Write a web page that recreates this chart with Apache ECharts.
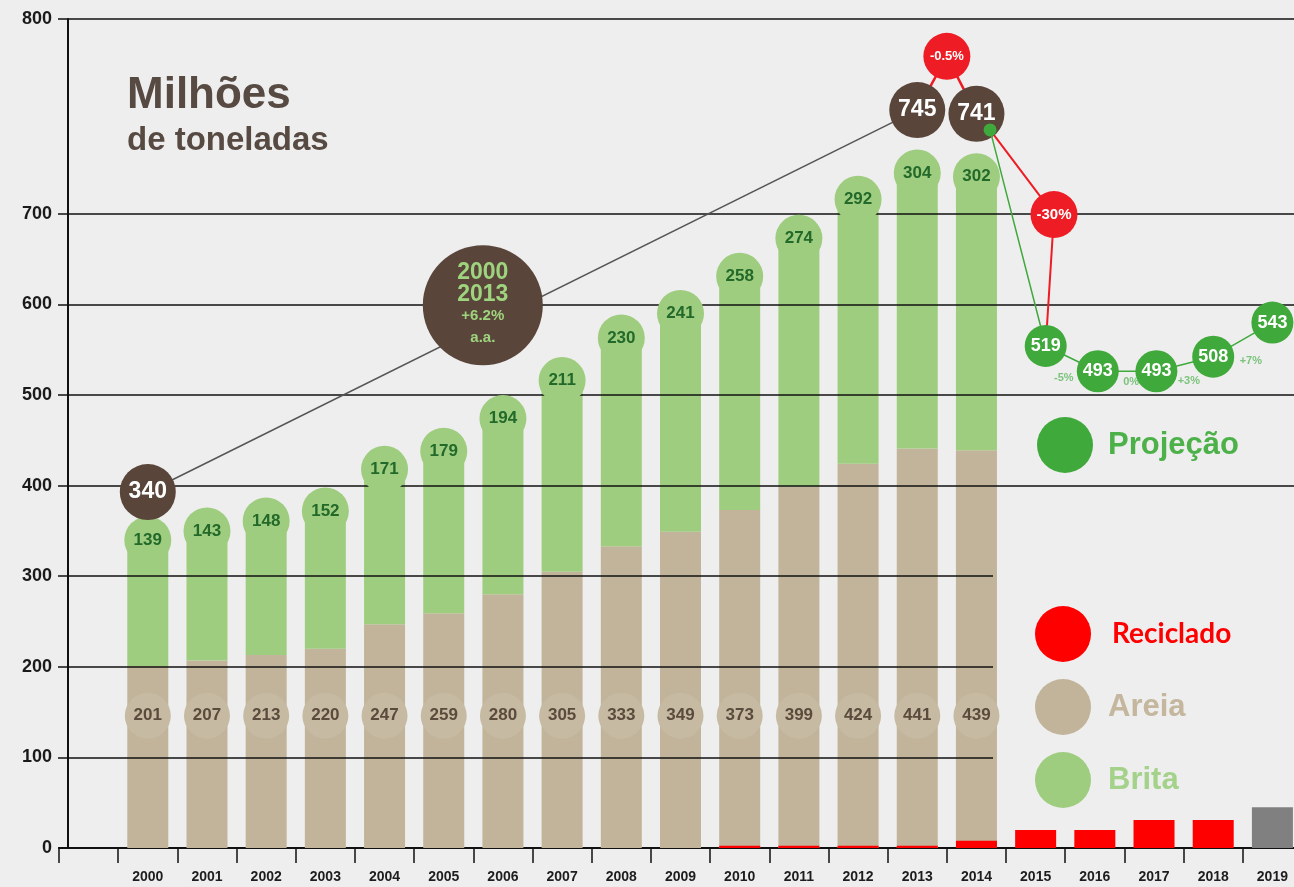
<!DOCTYPE html>
<html>
<head>
<meta charset="utf-8">
<script src="https://cdn.jsdelivr.net/npm/echarts@6/dist/echarts.min.js"></script>
<style>
html,body{margin:0;padding:0;background:#eeeeee;}
#c{width:1294px;height:887px;}
</style>
</head>
<body>
<div id="c"></div>
<script>
// ---------- DATA ----------
const categories = ['', '2000','2001','2002','2003','2004','2005','2006','2007','2008','2009',
                    '2010','2011','2012','2013','2014','2015','2016','2017','2018','2019'];
const areia = [null, 201,207,213,220,247,259,280,305,333,349,373,399,424,441,439, null,null,null,null,null];
const brita = [null, 139,143,148,152,171,179,194,211,230,241,258,274,292,304,302, null,null,null,null,null];
const reciclado = [null, null,null,null,null,null,null,null,null,null,null,
                   2.5,2.5,2.5,2.5, 8, 20,20,31,31,45];
const calloutYears = ['2000','2013','2014'];
const calloutValues = [340, 745, 741];
const projYears = ['2015','2016','2017','2018','2019'];
const projValues = [519, 493, 493, 508, 543];
const projChanges = ['-5%', '0%', '+3%', '+7%'];
const growthText = ['2000', '2013', '+6.2%', 'a.a.'];
const dropTexts = ['-0.5%', '-30%'];
const yTickValues = [0,100,200,300,400,500,600,700,915];
const yTickLabels = ['0','100','200','300','400','500','600','700','800'];

// ---------- LAYOUT CONSTANTS ----------
const Y_TOP = 915;
const AREIA_LABEL_Y = 146;
const GRID_X0 = 0.15;
const SHORT_END = 15.78;
const FONT = 'Liberation Sans, Arial, sans-serif';
const C_AREIA = '#c1b49a', C_BRITA = '#9fcd7f', C_RED = '#ee1c24', C_DARK = '#59453a', C_PROJ = '#40a93b';
const CHANGE_OFFSETS = [[-8, 19], [4, 11], [4, 17], [8, 21]];
const PROJ_SHIFT = [0.17, 0.05, 0.04, 0, 0];

const cx = name => categories.indexOf(name) + 0.5;

const drop1 = { x: (cx('2013') + cx('2014')) / 2, y: 802 };
const drop2 = { x: cx('2015') + 0.31, y: 654 };
const bigBubble = { x: 7.16, y: 538 };

const projStart = [cx('2014') + 0.23, calloutValues[2]];
const projPts = projYears.map((y, i) => [cx(y) + PROJ_SHIFT[i], projValues[i]]);

const britaCircles = [], areiaCircles = [];
categories.forEach((c, i) => {
  if (areia[i] != null) {
    britaCircles.push([c, areia[i] + brita[i], brita[i]]);
    areiaCircles.push([c, AREIA_LABEL_Y, areia[i]]);
  }
});
const changeMids = projChanges.map((t, i) => ({
  value: [(projPts[i][0] + projPts[i + 1][0]) / 2, (projPts[i][1] + projPts[i + 1][1]) / 2, t],
  label: { offset: CHANGE_OFFSETS[i] } }));

const gridShort = [100, 200, 300];
const gridLong = [400, 500, 600, 700, Y_TOP];

const solid = c => ({ color: c, opacity: 1 });

const chart = echarts.init(document.getElementById('c'), null, { renderer: 'canvas' });
chart.setOption({
  animation: false,
  backgroundColor: '#eeeeee',
  textStyle: { fontFamily: FONT },
  grid: { left: 59, width: 1243, top: 19, bottom: 39, containLabel: false, outerBoundsMode: 'none' },
  graphic: [
    { type: 'text', x: 127, y: 96, z: 20,
      style: { text: 'Milhões', font: 'bold 44px ' + FONT, fill: '#574a42', verticalAlign: 'middle' } },
    { type: 'text', x: 127, y: 141, z: 20,
      style: { text: 'de toneladas', font: 'bold 33px ' + FONT, fill: '#574a42', verticalAlign: 'middle' } }
  ],
  legend: [
    { data: [{ name: 'Projeção', textStyle: { color: '#4db14a' } }],
      left: 1037, top: 417, padding: 0, orient: 'vertical', icon: 'circle', itemWidth: 56, itemHeight: 56,
      selectedMode: false,
      textStyle: { fontSize: 31, fontWeight: 'bold', fontFamily: FONT, padding: [0, 0, 0, 10] } },
    { data: [
        { name: 'Reciclado', textStyle: { color: '#ff0000', fontFamily: 'Lato, Open Sans, sans-serif', fontSize: 28, padding: [0, 0, 0, 16] } },
        { name: 'Areia', textStyle: { color: '#c4b79e' } },
        { name: 'Brita', textStyle: { color: '#a5d28b' } }],
      left: 1035, top: 606, padding: 0, orient: 'vertical', icon: 'circle', itemWidth: 56, itemHeight: 56, itemGap: 17,
      selectedMode: false,
      textStyle: { fontSize: 31, fontWeight: 'bold', fontFamily: FONT, padding: [0, 0, 0, 12] } }
  ],
  xAxis: [
    { type: 'category', data: categories, boundaryGap: true,
      axisLine: { show: true, onZero: false, lineStyle: { color: '#111', width: 2 } },
      axisTick: { show: true, length: 15, lineStyle: { color: '#111', width: 1.5 } },
      axisLabel: { interval: 0, margin: 22, color: '#1d1d1d', fontSize: 14, fontWeight: 'bold', fontFamily: FONT },
      splitLine: { show: false } },
    { type: 'value', min: 0, max: 21, show: false }
  ],
  yAxis: [
    { type: 'value', min: 0, max: Y_TOP, interval: 100, offset: -9,
      axisLine: { show: true, onZero: false, lineStyle: { color: '#111', width: 2 } },
      axisTick: { show: true, length: 10, customValues: yTickValues, lineStyle: { color: '#111', width: 1.5 } },
      axisLabel: { customValues: yTickValues, margin: 16, color: '#1a1a1a', fontSize: 18, fontWeight: 'bold', fontFamily: FONT,
        formatter: v => { const k = yTickValues.indexOf(v); return k >= 0 ? yTickLabels[k] : ''; } },
      splitLine: { show: false } },
    { type: 'value', min: 3.1, max: 855, show: false },
    { type: 'value', min: -37.5, max: 841.6, show: false }
  ],
  series: [
    { name: 'Areia', type: 'bar', stack: 'total', data: areia, barWidth: 41, z: 2,
      itemStyle: solid(C_AREIA), silent: true },
    { name: 'Brita', type: 'bar', stack: 'total', data: brita, barWidth: 41, z: 2,
      itemStyle: solid(C_BRITA), silent: true },
    { name: 'Reciclado', type: 'bar', data: reciclado.map((v, i) => categories[i] === '2019' ? { value: v, itemStyle: { color: '#808080' } } : v),
      barWidth: 41, barGap: '-100%', z: 3, itemStyle: solid('#ff0000'), silent: true },
    { name: 'grid', type: 'line', xAxisIndex: 1, yAxisIndex: 0, data: [], silent: true,
      markLine: { silent: true, z: 3, symbol: ['none', 'none'], label: { show: false },
        lineStyle: { color: '#111', width: 1.5, type: 'solid', opacity: 1 },
        emphasis: { disabled: true },
        data: gridShort.map(v => [{ coord: [GRID_X0, v] }, { coord: [SHORT_END, v] }])
          .concat(gridLong.map(v => [{ coord: [GRID_X0, v] }, { coord: [21, v] }])) } },
    { name: 'britaLabels', type: 'scatter', data: britaCircles, symbolSize: 47, z: 6, silent: true,
      itemStyle: solid(C_BRITA),
      label: { show: true, position: 'inside', formatter: p => p.value[2], color: '#22692a', fontSize: 17, fontWeight: 'bold', fontFamily: FONT } },
    { name: 'areiaLabels', type: 'scatter', data: areiaCircles, symbolSize: 46, z: 6, silent: true,
      itemStyle: solid('#c6baa2'),
      label: { show: true, position: 'inside', formatter: p => p.value[2], color: '#5a4b3c', fontSize: 17, fontWeight: 'bold', fontFamily: FONT } },
    { name: 'trend', type: 'line', xAxisIndex: 1, yAxisIndex: 2, z: 5, silent: true, symbol: 'none',
      data: [[cx(calloutYears[0]), calloutValues[0]], [cx(calloutYears[1]), calloutValues[1]]],
      lineStyle: { color: '#555555', width: 1.5 } },
    { name: 'redTop', type: 'line', xAxisIndex: 1, yAxisIndex: 2, z: 5, silent: true, symbol: 'none',
      data: [[cx(calloutYears[1]), calloutValues[1]], [drop1.x, drop1.y], [cx(calloutYears[2]), calloutValues[2]]],
      lineStyle: { color: C_RED, width: 2.5 } },
    { name: 'bigBubble', type: 'scatter', xAxisIndex: 1, yAxisIndex: 2, z: 8, silent: true,
      data: [[bigBubble.x, bigBubble.y]], symbolSize: 120, itemStyle: solid(C_DARK),
      label: { show: true, position: 'inside',
        formatter: '{a|' + growthText[0] + '}\n{a|' + growthText[1] + '}\n{b|' + growthText[2] + '}\n{b|' + growthText[3] + '}',
        rich: { a: { fontSize: 23, lineHeight: 22, fontWeight: 'bold', color: '#9fd47f', fontFamily: FONT, align: 'center' },
                b: { fontSize: 15, lineHeight: 22, fontWeight: 'bold', color: '#9fd47f', fontFamily: FONT, align: 'center' } } } },
    { name: 'callouts', type: 'scatter', xAxisIndex: 1, yAxisIndex: 2, z: 8, silent: true,
      data: calloutYears.map((y, i) => [cx(y), calloutValues[i]]), symbolSize: 56,
      itemStyle: solid(C_DARK),
      label: { show: true, position: 'inside', formatter: p => p.value[1], color: '#ffffff', fontSize: 23, fontWeight: 'bold', fontFamily: FONT } },
    { name: 'drop1', type: 'scatter', xAxisIndex: 1, yAxisIndex: 2, z: 9, silent: true,
      data: [[drop1.x, drop1.y]], symbolSize: 47, itemStyle: solid(C_RED),
      label: { show: true, position: 'inside', formatter: dropTexts[0], color: '#fff', fontSize: 13, fontWeight: 'bold', fontFamily: FONT } },
    { name: 'redPath', type: 'line', xAxisIndex: 1, yAxisIndex: 1, z: 7, silent: true, symbol: 'none',
      data: [projStart, [drop2.x, drop2.y], projPts[0]],
      lineStyle: { color: C_RED, width: 2 } },
    { name: 'drop2', type: 'scatter', xAxisIndex: 1, yAxisIndex: 1, z: 9, silent: true,
      data: [[drop2.x, drop2.y]], symbolSize: 47, itemStyle: solid(C_RED),
      label: { show: true, position: 'inside', formatter: dropTexts[1], color: '#fff', fontSize: 15, fontWeight: 'bold', fontFamily: FONT } },
    { name: 'Projeção', type: 'line', xAxisIndex: 1, yAxisIndex: 1, z: 10, silent: true,
      data: [projStart].concat(projPts), symbol: 'circle', showAllSymbol: true,
      symbolSize: (v, p) => p.dataIndex === 0 ? 13 : 42,
      itemStyle: { color: C_PROJ, borderWidth: 0, opacity: 1 }, lineStyle: { color: C_PROJ, width: 1.5 },
      label: { show: true, position: 'inside', formatter: p => p.dataIndex === 0 ? '' : p.value[1],
        color: '#fff', fontSize: 18, fontWeight: 'bold', fontFamily: FONT } },
    { name: 'changes', type: 'scatter', xAxisIndex: 1, yAxisIndex: 1, z: 12, silent: true,
      data: changeMids, symbolSize: 0,
      label: { show: true, position: 'inside', formatter: p => p.value[2],
        color: '#5cb85c', fontSize: 11, fontWeight: 'bold', fontFamily: FONT } }
  ]
});
</script>
</body>
</html>
